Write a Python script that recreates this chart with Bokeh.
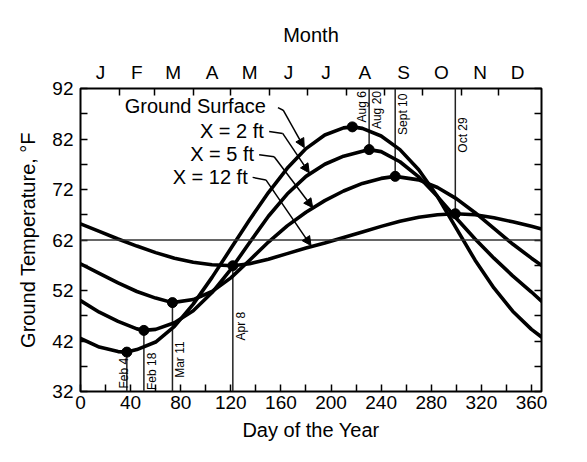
import math
from bokeh.plotting import figure
from bokeh.models import (Range1d, LinearAxis, FixedTicker, Span, Arrow,
                          NormalHead, Label)
from bokeh.embed import file_html
from bokeh.resources import INLINE

# ---------------- data ----------------
month_letters = ["J", "F", "M", "A", "M", "J", "J", "A", "S", "O", "N", "D"]
month_mid_days = [16, 45, 74, 105, 135, 166, 196, 227, 258, 288, 319, 349]
month_start_days = [31, 59, 90, 120, 151, 181, 212, 243, 273, 304, 334]

day_ticks = [0, 40, 80, 120, 160, 200, 240, 280, 320, 360]
day_minor = [20, 60, 100, 140, 180, 220, 260, 300, 340]
temp_ticks = [32, 42, 52, 62, 72, 82, 92]
temp_minor = [37, 47, 57, 67, 77, 87]
mean_temp = 62

surface_days = [0, 15, 30, 37, 45, 60, 75, 90, 105, 120, 135, 150, 165, 180,
                195, 210, 217, 225, 240, 255, 270, 285, 300, 315, 330, 345, 360, 368]
surface_temp = [42.5, 40.8, 39.9, 39.8, 40.3, 41.8, 44.9, 49.3, 54.6, 60.3, 66.0,
                71.4, 76.2, 80.1, 82.8, 84.2, 84.4, 84.1, 82.6, 79.9, 75.9, 70.6,
                64.3, 58.0, 52.5, 47.9, 44.3, 42.8]

ft2_days = [0, 15, 30, 45, 50.6, 60, 75, 90, 105, 120, 135, 150, 165, 180, 195,
            210, 230.4, 240, 255, 270, 285, 300, 315, 330, 345, 360, 368]
ft2_temp = [50.0, 47.7, 45.9, 44.4, 44.1, 44.3, 45.6, 48.0, 51.6, 56.2, 61.5,
            66.7, 71.1, 74.6, 77.0, 78.6, 79.9, 79.5, 77.5, 74.5, 70.6, 66.3,
            62.2, 58.4, 54.9, 51.7, 49.9]

ft5_days = [0, 15, 30, 45, 60, 73.4, 90, 105, 120, 135, 150, 165, 180, 195, 210,
            225, 240, 251.2, 270, 285, 300, 315, 330, 345, 360, 368]
ft5_temp = [57.3, 55.4, 53.5, 51.8, 50.5, 49.6, 50.2, 51.8, 54.5, 58.0, 61.6,
            64.8, 67.5, 69.8, 71.7, 73.2, 74.2, 74.6, 73.9, 72.4, 70.2, 67.4,
            64.3, 61.2, 58.4, 57.0]

ft12_days = [0, 15, 30, 45, 60, 75, 90, 105, 121.6, 135, 150, 165, 180, 195, 210,
             225, 240, 255, 270, 285, 299.2, 315, 330, 345, 360, 368]
ft12_temp = [65.2, 63.7, 62.2, 60.8, 59.5, 58.4, 57.6, 57.1, 56.9, 57.3, 58.2,
             59.3, 60.4, 61.4, 62.5, 63.6, 64.7, 65.7, 66.5, 67.0, 67.2, 67.0,
             66.4, 65.6, 64.7, 64.2]

event_labels = ["Feb 4", "Feb 18", "Mar 11", "Apr 8", "Aug 6", "Aug 20", "Sept 10", "Oct 29"]
event_days = [37, 50.6, 73.4, 121.6, 217, 230.4, 251.2, 299.2]
event_temp = [39.8, 44.1, 49.6, 56.9, 84.4, 79.9, 74.6, 67.2]

series_names = ["Ground Surface", "X = 2 ft", "X = 5 ft", "X = 12 ft"]

# ---------------- figure ----------------
FONT = "Liberation Sans"
X_MAX, Y_MIN, Y_MAX = 368, 32, 92

p = figure(width=587, height=462, x_range=Range1d(0, X_MAX), y_range=Range1d(Y_MIN, Y_MAX),
           output_backend="svg", toolbar_location=None,
           min_border_left=80, min_border_right=46, min_border_top=88, min_border_bottom=71)
p.xgrid.visible = False
p.ygrid.visible = False
p.outline_line_color = "black"
p.outline_line_width = 2
p.background_fill_color = "white"
p.border_fill_color = "white"


def style_axis(ax, tick_len=7, minor_len=7, label_size="19px"):
    ax.axis_line_color = None
    ax.major_tick_in = tick_len
    ax.major_tick_out = 0
    ax.minor_tick_in = minor_len
    ax.minor_tick_out = 0
    ax.major_tick_line_color = "black"
    ax.major_tick_line_width = 1.5
    ax.minor_tick_line_color = "black"
    ax.minor_tick_line_width = 1.5
    ax.major_label_text_font = FONT
    ax.major_label_text_font_size = label_size
    ax.major_label_text_color = "black"
    ax.axis_label_text_font = FONT
    ax.axis_label_text_font_size = "20px"
    ax.axis_label_text_font_style = "normal"
    ax.axis_label_text_color = "black"


xb = p.xaxis[0]
xb.ticker = FixedTicker(ticks=day_ticks, minor_ticks=day_minor)
xb.axis_label = "Day of the Year"
style_axis(xb)
xb.major_label_standoff = 4
xb.axis_label_standoff = 7

yl = p.yaxis[0]
yl.ticker = FixedTicker(ticks=temp_ticks, minor_ticks=temp_minor)
yl.axis_label = "Ground Temperature, °F"
style_axis(yl)
yl.major_label_standoff = 7
yl.axis_label_standoff = 10

# right axis: ticks only (all as minor ticks, so no labels are drawn)
yr = LinearAxis(ticker=FixedTicker(ticks=[], minor_ticks=sorted(temp_ticks + temp_minor)))
style_axis(yr)
p.add_layout(yr, "right")

xt = LinearAxis(ticker=FixedTicker(ticks=month_mid_days, minor_ticks=month_start_days),
                major_label_overrides={d: m for d, m in zip(month_mid_days, month_letters)},
                axis_label="Month")
style_axis(xt, tick_len=0, minor_len=7)
xt.major_label_standoff = 6
xt.axis_label_standoff = 13
p.add_layout(xt, "above")

# mean line
p.add_layout(Span(location=mean_temp, dimension="width", line_color="#333333", line_width=1.5))

# event vertical lines
down = [0, 1, 2, 3]
up = [5, 6, 7]
p.segment(x0=[event_days[i] for i in down], y0=[Y_MIN] * len(down),
          x1=[event_days[i] for i in down], y1=[event_temp[i] for i in down],
          line_color="#222222", line_width=1.5)
p.segment(x0=[event_days[i] for i in up], y0=[event_temp[i] for i in up],
          x1=[event_days[i] for i in up], y1=[Y_MAX] * len(up),
          line_color="#222222", line_width=1.5)

# curves
for d, t in [(surface_days, surface_temp), (ft2_days, ft2_temp),
             (ft5_days, ft5_temp), (ft12_days, ft12_temp)]:
    p.line(d, t, line_color="black", line_width=3.6, line_join="round", line_cap="round")

p.scatter(event_days, event_temp, size=10, fill_color="black", line_color="black")

# event labels (rotated)
lab_pos = {
    0: dict(y=32.6, align="left", base="alphabetic", dx=-3),
    1: dict(y=32.3, align="left", base="top", dx=1),
    2: dict(y=34.7, align="left", base="top", dx=1),
    3: dict(y=42.1, align="left", base="top", dx=1),
    4: dict(y=91.5, align="right", base="top", dx=3),
    5: dict(y=91.5, align="right", base="top", dx=1),
    6: dict(y=91.0, align="right", base="top", dx=1),
    7: dict(y=86.3, align="right", base="top", dx=1),
}
for i, txt in enumerate(event_labels):
    lp = lab_pos[i]
    p.add_layout(Label(x=event_days[i], y=lp["y"], text=txt, angle=math.pi / 2,
                       text_align=lp["align"], text_baseline=lp["base"], x_offset=lp["dx"],
                       text_font=FONT, text_font_size="12px", text_color="black"))

# series labels with leader arrows
label_anchor = [(148, 88.6), (146.4, 83.6), (138.6, 79.1), (133.5, 74.4)]
leaders = [
    [(157.6, 88.2), (161.8, 87.7), (178.6, 80.3)],
    [(150.6, 83.5), (161.4, 83.1), (182.6, 75.3)],
    [(142.6, 78.9), (154.6, 78.5), (185.4, 68.4)],
    [(137.4, 74.4), (148.0, 73.9), (184.0, 60.9)],
]
for name, (ax_, ay_), pts in zip(series_names, label_anchor, leaders):
    p.add_layout(Label(x=ax_, y=ay_, text=name, text_align="right", text_baseline="middle",
                       text_font=FONT, text_font_size="20px", text_color="black"))
    p.line([pts[0][0], pts[1][0]], [pts[0][1], pts[1][1]], line_color="black", line_width=1.5)
    p.add_layout(Arrow(end=NormalHead(size=9, fill_color="black", line_color="black", line_width=1),
                       x_start=pts[1][0], y_start=pts[1][1], x_end=pts[2][0], y_end=pts[2][1],
                       line_color="black", line_width=1.5))

open("out.html", "w").write(file_html(p, INLINE))
